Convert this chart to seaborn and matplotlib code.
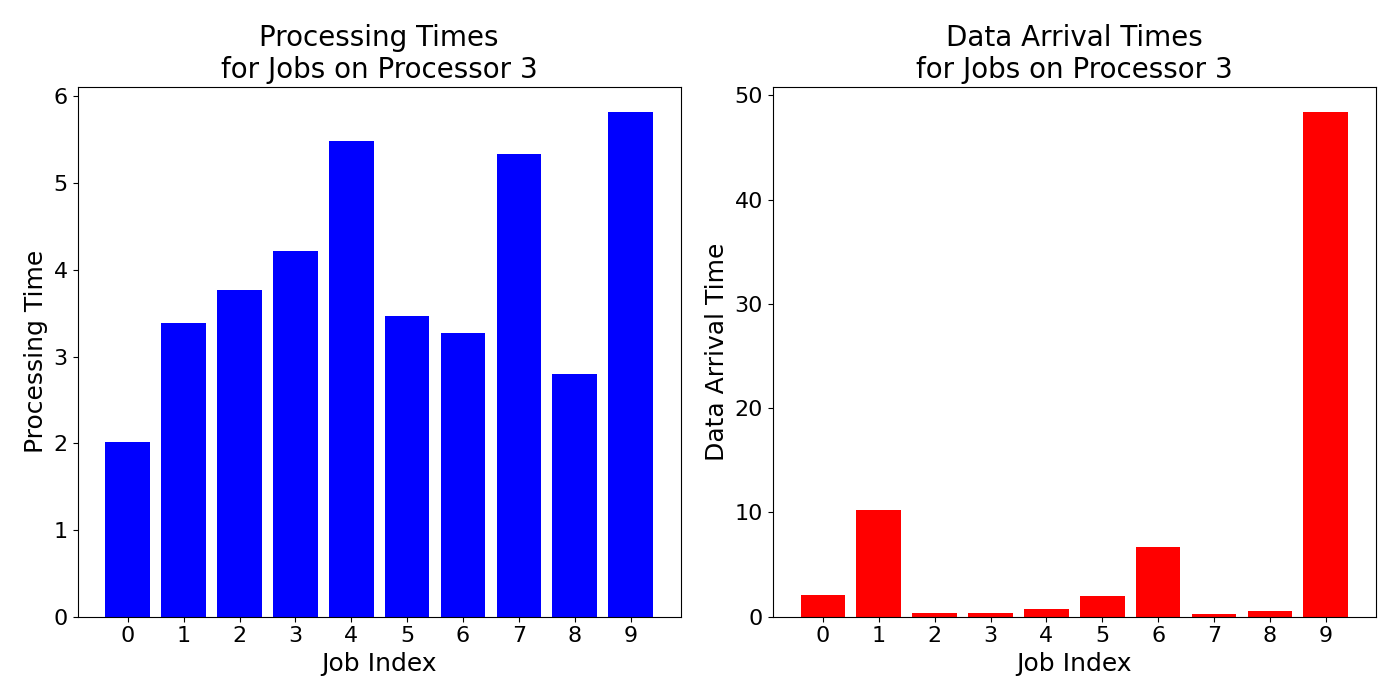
import matplotlib
matplotlib.use("Agg")
import matplotlib.pyplot as plt
import seaborn as sns
import pandas as pd

jobs = list(range(10))
proc_times = [2.01, 3.39, 3.77, 4.22, 5.49, 3.47, 3.27, 5.34, 2.80, 5.82]
arrival_times = [2.04, 10.2, 0.37, 0.37, 0.74, 1.95, 6.68, 0.28, 0.56, 48.4]

df = pd.DataFrame({"job": jobs, "proc": proc_times, "arr": arrival_times})

plt.rcParams.update({"font.size": 16})
fig, axes = plt.subplots(1, 2, figsize=(14, 7), dpi=100)

panels = [
    ("proc", "blue", "Processing Time", "Processing Times\nfor Jobs on Processor 3"),
    ("arr", "red", "Data Arrival Time", "Data Arrival Times\nfor Jobs on Processor 3"),
]
for ax, (col, color, ylab, title) in zip(axes, panels):
    sns.barplot(data=df, x="job", y=col, color=color, saturation=1, width=0.8, ax=ax)
    ax.set_xlim(-0.9, 9.9)
    ax.set_xlabel("Job Index", fontsize=18)
    ax.set_ylabel(ylab, fontsize=18)
    ax.set_title(title, fontsize=20)

plt.tight_layout()
fig.savefig("out.png")
